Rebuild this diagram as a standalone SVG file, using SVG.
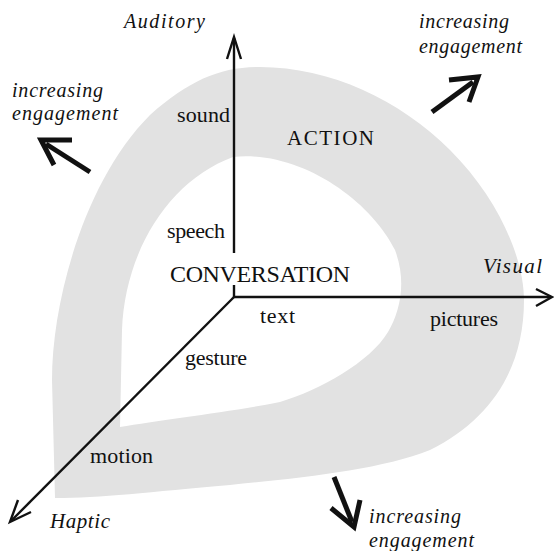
<svg xmlns="http://www.w3.org/2000/svg" width="554" height="551" viewBox="0 0 554 551">
<style>
text{font-family:"Liberation Serif","Times New Roman",serif;fill:#111}
.it{font-style:italic;font-size:20px}
.lb{font-size:22px}
.ax{stroke:#111;stroke-width:2.4;fill:none}
.big{stroke:#111;stroke-width:5;fill:none;stroke-linecap:butt;stroke-linejoin:miter}
</style>
<rect width="554" height="551" fill="#fff"/>
<g id="band">
<path fill="#e2e2e2" fill-rule="evenodd" d="M55,498 L52,380 C52,300 85,180 150,115 C190,80 220,67 260,67 C330,67 400,100 450,150 C500,200 524,260 524,300 C524,370 490,420 430,450 C380,470 300,478 230,485 C150,492 100,498 55,498 Z M120,427 L122,330 C125,250 170,180 233,157 C300,150 370,200 395,250 C407,282 400,312 388,332 C370,362 320,390 280,402 C230,412 160,420 120,427 Z"/>
</g>
<g id="connectors">
<line class="ax" x1="234" y1="253" x2="234" y2="38"/>
<line class="ax" x1="234" y1="285" x2="234" y2="297"/>
<polyline class="ax" points="227,59 234,37 241,59"/>
<line class="ax" x1="233" y1="297" x2="551" y2="297"/>
<polyline class="ax" points="536,289 552,297 536,306"/>
<line class="ax" x1="234" y1="297" x2="11" y2="521"/>
<polyline class="ax" points="31,512 10,522 18,500"/>
</g>
<g id="auditory"><text class="it" x="124" y="28" textLength="81">Auditory</text></g>
<g id="visual"><text class="it" x="483" y="273" style="font-size:21px" textLength="59">Visual</text></g>
<g id="haptic"><text class="it" x="50" y="528" style="font-size:21px" textLength="60">Haptic</text></g>
<g id="engage-tl">
<text class="it" x="12" y="97" textLength="91">increasing</text>
<text class="it" x="12" y="120" textLength="106">engagement</text>
<polyline class="big" points="72,140 41,140 54,165"/>
<line class="big" x1="90" y1="172" x2="46" y2="144"/>
</g>
<g id="engage-tr">
<text class="it" x="419" y="28" textLength="90">increasing</text>
<text class="it" x="419" y="53" textLength="103">engagement</text>
<polyline class="big" points="449,80 478,77 469,102"/>
<line class="big" x1="432" y1="112" x2="473" y2="82"/>
</g>
<g id="engage-b">
<text class="it" x="369" y="523" textLength="92">increasing</text>
<text class="it" x="369" y="547" textLength="105">engagement</text>
<polyline class="big" points="331,508 354,527 360,500"/>
<line class="big" x1="334" y1="477" x2="352" y2="522"/>
</g>
<g id="action"><text class="lb" x="287" y="145" style="font-size:21px" textLength="87">ACTION</text></g>
<g id="conversation"><text class="lb" x="170" y="282" style="font-size:24px" textLength="180">CONVERSATION</text></g>
<g id="sound"><text class="lb" x="177" y="122" textLength="53">sound</text></g>
<g id="speech"><text class="lb" x="167" y="238" textLength="58">speech</text></g>
<g id="text"><text class="lb" x="260" y="323" textLength="35">text</text></g>
<g id="pictures"><text class="lb" x="430" y="326" textLength="68">pictures</text></g>
<g id="gesture"><text class="lb" x="185" y="365" textLength="62">gesture</text></g>
<g id="motion"><text class="lb" x="90" y="463" textLength="63">motion</text></g>
</svg>
